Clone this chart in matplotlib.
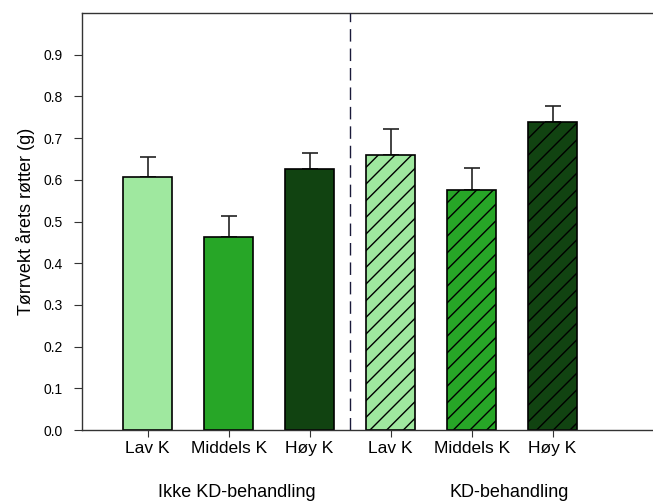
import numpy as np
import matplotlib.pyplot as plt

plt.rcParams['font.family'] = ['Liberation Sans', 'DejaVu Sans']
plt.rcParams['hatch.linewidth'] = 1.0

# data
labels = ['Lav K', 'Middels K', 'Høy K', 'Lav K', 'Middels K', 'Høy K']
values = [0.607, 0.462, 0.626, 0.660, 0.576, 0.739]
errors = [0.048, 0.052, 0.038, 0.063, 0.053, 0.037]
colors = ['#9fe89f', '#27a627', '#114311', '#9fe89f', '#27a627', '#114311']
hatches = ['', '', '', '//', '//', '//']
groups = ['Ikke KD-behandling', 'KD-behandling']

fig = plt.figure(figsize=(6.53, 5.04), dpi=100)
ax = fig.add_axes([0.1256, 0.1468, 0.8744, 0.8272])

x = np.arange(len(values))
for i in range(len(values)):
    ax.bar(x[i], values[i], width=0.605, color=colors[i], edgecolor='black',
           linewidth=1.2, hatch=hatches[i], zorder=2)
    ax.errorbar(x[i], values[i], yerr=[[0], [errors[i]]], fmt='none',
                ecolor='#222222', elinewidth=1.2, capsize=6, capthick=1.2,
                zorder=1)

# divider between the two treatments
ax.plot([2.5, 2.5], [0, 1], color='#1a1a3a', linewidth=1,
        dashes=(9, 5), zorder=3)

ax.set_xlim(-0.81, 6.24)
ax.set_ylim(0, 1.0)
ax.set_yticks(np.arange(0, 1.0, 0.1))
ax.set_yticklabels(['%.1f' % v for v in np.arange(0, 1.0, 0.1)])
ax.set_xticks(x)
ax.set_xticklabels(labels)
ax.tick_params(axis='y', labelsize=10, length=6, pad=8, color='#333333')
ax.tick_params(axis='x', labelsize=12.5, length=5, pad=3, color='#333333')

ax.spines['right'].set_visible(False)
for s in ['left', 'top', 'bottom']:
    ax.spines[s].set_color('#333333')
    ax.spines[s].set_linewidth(1.0)

ax.set_ylabel('Tørrvekt årets røtter (g)', fontsize=13, labelpad=6)

trans = ax.get_xaxis_transform()
ax.text(1.1, -0.151, groups[0], transform=trans, ha='center', va='center',
        fontsize=13)
ax.text(4.47, -0.151, groups[1], transform=trans, ha='center', va='center',
        fontsize=13)

fig.savefig('out.png', dpi=100)
